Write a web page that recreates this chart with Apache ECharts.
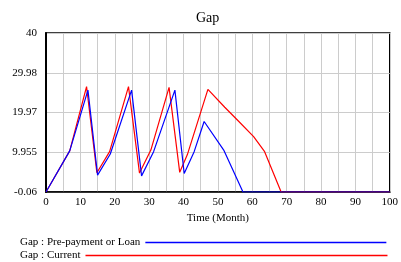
<!DOCTYPE html>
<html>
<head>
<meta charset="utf-8">
<script src="https://cdn.jsdelivr.net/npm/echarts@6/dist/echarts.min.js"></script>
<style>
  html, body { margin: 0; padding: 0; background: #fff; }
  #chart { width: 401px; height: 262px; }
</style>
</head>
<body>
<div id="chart"></div>
<script>
// Gap : Pre-payment or Loan (blue)
var loanMonths = [0, 6.9, 12.2, 15.0, 18.7, 24.9, 27.8, 31.3, 37.5, 40.2, 43.1, 46.0, 51.7, 57.3, 100];
var loanValues = [-0.06, 10.3, 25.6, 4.2, 9.5, 25.6, 4.0, 10.1, 25.6, 4.6, 10.1, 17.7, 10.5, -0.06, -0.06];

// Gap : Current (red)
var currentMonths = [0, 6.9, 11.8, 14.8, 18.5, 24.0, 27.2, 30.5, 35.8, 38.9, 41.1, 47.1, 52.0, 56.1, 60.4, 63.6, 68.4, 100];
var currentValues = [-0.06, 10.3, 26.5, 4.8, 10.1, 26.5, 4.7, 10.5, 26.3, 4.9, 9.3, 25.8, 21.3, 17.7, 13.9, 10.1, -0.06, -0.06];

var yTickLabels = ['-0.06', '9.955', '19.97', '29.98', '40'];
var yMin = -0.06, yStep = 10.015;

// shift so the axis starts at 0 (ticks are counted from a multiple of interval)
function toPairs(xs, ys) {
    return xs.map(function (x, i) { return [x, +(ys[i] - yMin).toFixed(3)]; });
}

var font = 'Liberation Serif';
var chart = echarts.init(document.getElementById('chart'));

// long flat line as legend icon, path has same aspect as the item box
function legendFor(name, color, top, width) {
    var h = 1.3;
    var icon = 'path://M0,0L' + (width * 10) + ',0L' + (width * 10) + ',' + (h * 10) + 'L0,' + (h * 10) + 'Z';
    return {
        data: [{ name: name, icon: icon, itemStyle: { color: color, opacity: 1 } }],
        left: 15,
        top: top,
        align: 'right',
        itemWidth: width,
        itemHeight: h,
        textStyle: { fontFamily: font, fontSize: 11, color: '#000' }
    };
}

var opt = {
    animation: false,
    title: {
        text: 'Gap',
        left: 191,
        top: 6,
        textStyle: { fontFamily: font, fontSize: 14, fontWeight: 'normal', color: '#000' }
    },
    legend: [
        legendFor('Gap : Pre-payment or Loan', '#0000ff', 232, 241),
        legendFor('Gap : Current', '#ff0000', 245, 302)
    ],
    grid: {
        left: 46, right: 9, top: 33, bottom: 70,
        show: true,
        borderColor: '#000',
        borderWidth: 1.5
    },
    xAxis: {
        type: 'value',
        min: 0,
        max: 100,
        interval: 5,
        name: 'Time (Month)',
        nameLocation: 'middle',
        nameGap: 20,
        nameTextStyle: { fontFamily: font, fontSize: 11, color: '#000' },
        axisLine: { lineStyle: { color: '#000', width: 1.5 } },
        axisTick: { show: false },
        axisLabel: {
            fontFamily: font, fontSize: 11, color: '#000', margin: 5,
            formatter: function (v) { return v % 10 === 0 ? String(v) : ''; }
        },
        splitLine: { lineStyle: { color: '#cccccc', width: 1 } }
    },
    yAxis: {
        type: 'value',
        min: 0,
        max: 40.06,
        interval: yStep,
        axisLine: { show: true, lineStyle: { color: '#000', width: 2 } },
        axisTick: { show: false },
        axisLabel: {
            fontFamily: font, fontSize: 11, color: '#000', margin: 9,
            formatter: function (v) {
                var i = Math.round(v / yStep);
                return yTickLabels[i] !== undefined ? yTickLabels[i] : '';
            }
        },
        splitLine: { lineStyle: { color: '#cccccc', width: 1 } }
    },
    series: [{
        name: 'Gap : Pre-payment or Loan',
        type: 'line',
        z: 3,
        data: toPairs(loanMonths, loanValues),
        showSymbol: false,
        itemStyle: { color: '#0000ff' },
        lineStyle: { width: 1.2, color: '#0000ff' }
    }, {
        name: 'Gap : Current',
        type: 'line',
        z: 2,
        data: toPairs(currentMonths, currentValues),
        showSymbol: false,
        itemStyle: { color: '#ff0000' },
        lineStyle: { width: 1.2, color: '#ff0000' }
    }]
};
chart.setOption(opt);
</script>
</body>
</html>
